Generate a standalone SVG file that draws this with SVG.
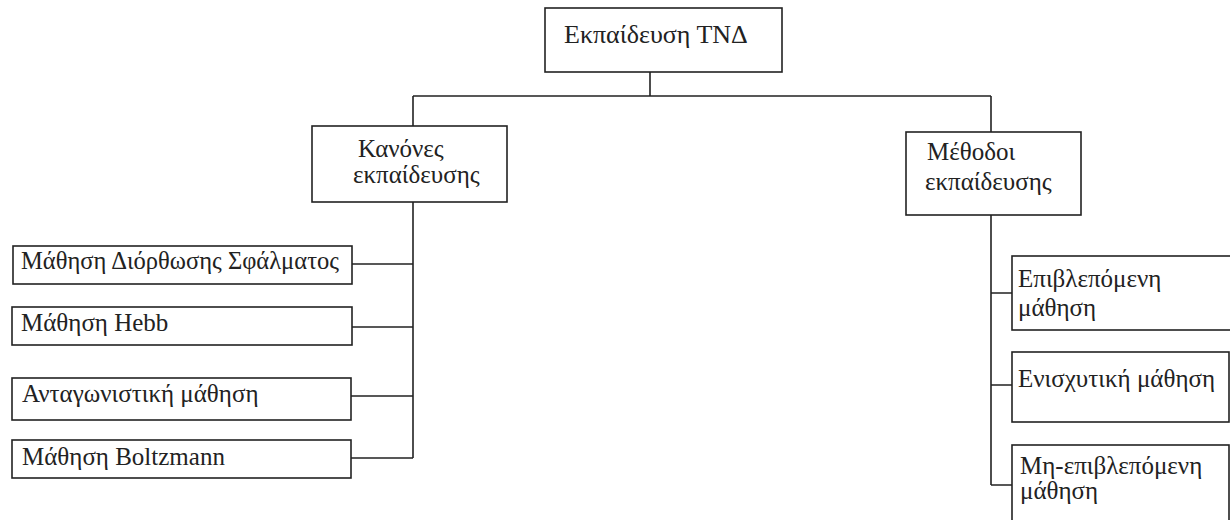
<svg xmlns="http://www.w3.org/2000/svg" width="1230" height="520" viewBox="0 0 1230 520">
  <style>
    .box { fill: #ffffff; stroke: #222222; stroke-width: 1.6; }
    .wire { fill: none; stroke: #222222; stroke-width: 1.6; }
    text { font-family: "Liberation Serif", "Times New Roman", serif; font-size: 25px; fill: #222222; }
    .title { font-size: 26px; }
  </style>
  <rect width="1230" height="520" fill="#ffffff"/>

  <!-- connectors -->
  <g id="connectors">
    <path class="wire" d="M650,72 V96 M413,96 H991 M413,96 V126 M991,96 V132"/>
    <path class="wire" d="M413,202 V458 M352,264 H413 M352,327 H413 M351,396 H413 M351,458 H413"/>
    <path class="wire" d="M991,215 V485 M991,293 H1012 M991,385 H1012 M991,485 H1012"/>
  </g>

  <g id="root">
    <rect class="box" x="545" y="8" width="237" height="64"/>
    <text class="title" x="564" y="43">Εκπαίδευση ΤΝΔ</text>
  </g>

  <g id="rules">
    <rect class="box" x="312" y="126" width="195" height="76"/>
    <text x="358" y="157">Κανόνες</text>
    <text x="353" y="183">εκπαίδευσης</text>
  </g>

  <g id="methods">
    <rect class="box" x="906" y="132" width="175" height="83"/>
    <text x="927" y="160">Μέθοδοι</text>
    <text x="925" y="190">εκπαίδευσης</text>
  </g>

  <g id="error-correction">
    <rect class="box" x="13" y="246" width="339" height="38"/>
    <text x="21" y="269" textLength="318" lengthAdjust="spacingAndGlyphs">Μάθηση Διόρθωσης Σφάλματος</text>
  </g>

  <g id="hebb">
    <rect class="box" x="12" y="307" width="340" height="38"/>
    <text x="21" y="331">Μάθηση Hebb</text>
  </g>

  <g id="competitive">
    <rect class="box" x="12" y="378" width="339" height="42"/>
    <text x="22" y="402">Ανταγωνιστική μάθηση</text>
  </g>

  <g id="boltzmann">
    <rect class="box" x="12" y="440" width="339" height="38"/>
    <text x="22" y="465">Μάθηση Boltzmann</text>
  </g>

  <g id="supervised">
    <rect class="box" x="1012" y="256" width="222" height="74"/>
    <text x="1018" y="287">Επιβλεπόμενη</text>
    <text x="1018" y="316">μάθηση</text>
  </g>

  <g id="reinforcement">
    <rect class="box" x="1012" y="352" width="217" height="70"/>
    <text x="1018" y="387">Ενισχυτική μάθηση</text>
  </g>

  <g id="unsupervised">
    <rect class="box" x="1012" y="445" width="217" height="80"/>
    <text x="1020" y="474">Μη-επιβλεπόμενη</text>
    <text x="1020" y="499">μάθηση</text>
  </g>
</svg>
